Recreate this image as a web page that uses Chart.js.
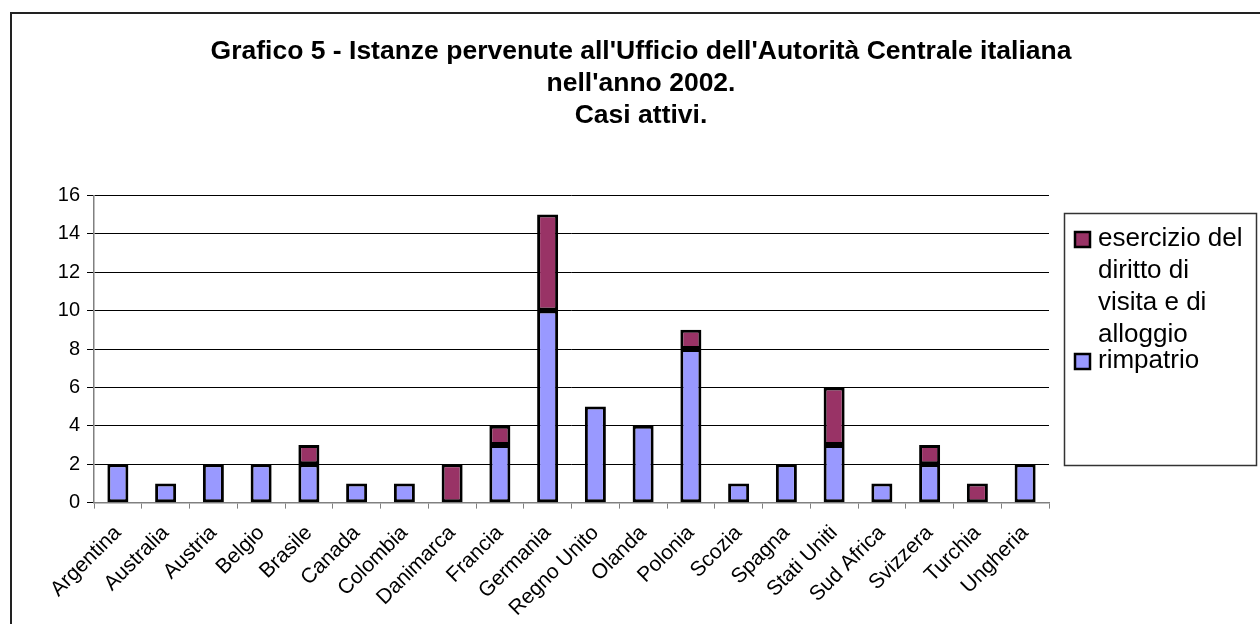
<!DOCTYPE html>
<html>
<head>
<meta charset="utf-8">
<script src="https://cdn.jsdelivr.net/npm/chart.js@4/dist/chart.umd.min.js"></script>
<style>
html,body{margin:0;padding:0;background:#fff;overflow:hidden}
#wrap{position:absolute;left:0;top:0;width:1260px;height:640px}
#frame{position:absolute;left:10px;top:12px;width:1262px;height:640px;border:2px solid #222;box-sizing:border-box}
</style>
</head>
<body>
<div id="frame"></div>
<div id="wrap"><canvas id="chart" width="1260" height="640"></canvas></div>
<script>
var paesi = ['Argentina','Australia','Austria','Belgio','Brasile','Canada','Colombia','Danimarca','Francia','Germania',
             'Regno Unito','Olanda','Polonia','Scozia','Spagna','Stati Uniti','Sud Africa','Svizzera','Turchia','Ungheria']
var rimpatrio = [2,1,2,2,2,1,1,0,3,10,5,4,8,1,2,3,1,2,0,2]
var visita = [0,0,0,0,1,0,0,2,1,5,0,0,1,0,0,3,0,1,1,0]
var yticks = [0,2,4,6,8,10,12,14,16]
var titolo = ["Grafico 5 - Istanze pervenute all'Ufficio dell'Autorità Centrale italiana", "nell'anno 2002.", "Casi attivi."]

var fontname = "'Liberation Sans', Arial, sans-serif"

// legenda disegnata a mano, con testo a capo come in Excel
var legendbox = {
    id: 'legendbox',
    afterDraw: function (chart) {
        var ctx = chart.ctx
        ctx.save()
        ctx.strokeStyle = '#333'
        ctx.lineWidth = 1.5
        ctx.strokeRect(1064.5, 213.5, 192, 252)
        ctx.font = '26px ' + fontname
        ctx.textBaseline = 'middle'
        ctx.fillStyle = '#000'
        var ds = chart.data.datasets.slice().reverse()
        var y = 239
        for (var i = 0; i < ds.length; i++) {
            // quadratino
            ctx.fillStyle = ds[i].backgroundColor
            ctx.fillRect(1075, y - 7, 15, 15)
            ctx.strokeStyle = '#000'
            ctx.lineWidth = 2.5
            ctx.strokeRect(1075, y - 7, 15, 15)
            // testo a capo
            var words = ds[i].label.split(' ')
            var lines = []
            var cur = ''
            for (var w = 0; w < words.length; w++) {
                var test = cur ? cur + ' ' + words[w] : words[w]
                if (ctx.measureText(test).width > 156 && cur) {
                    lines.push(cur)
                    cur = words[w]
                } else {
                    cur = test
                }
            }
            lines.push(cur)
            ctx.fillStyle = '#000'
            for (var l = 0; l < lines.length; l++) {
                ctx.fillText(lines[l], 1098, y + l * 32)
            }
            y = y + (lines.length - 1) * 32 + 26
        }
        ctx.restore()
    }
}

var ctx = document.getElementById('chart').getContext('2d')
var config = {
    type: 'bar',
    data: {
        labels: paesi,
        datasets: [
            {
                label: 'rimpatrio',
                data: rimpatrio,
                backgroundColor: '#9999FF',
                borderColor: '#000',
                borderWidth: 3,
                borderSkipped: false
            },
            {
                label: 'esercizio del diritto di visita e di alloggio',
                data: visita,
                backgroundColor: '#993366',
                borderColor: '#000',
                borderWidth: 3,
                borderSkipped: false
            }
        ]
    },
    options: {
        responsive: false,
        animation: false,
        layout: {
            padding: {left: 22, right: 0, top: 0, bottom: 7}
        },
        datasets: {
            bar: {
                barPercentage: 0.44,
                categoryPercentage: 1
            }
        },
        plugins: {
            legend: {display: false},
            tooltip: {enabled: false},
            title: {
                display: true,
                text: titolo,
                color: '#000',
                font: {family: fontname, size: 26.5, weight: 'bold', lineHeight: 1.2},
                padding: {top: 36, bottom: 64}
            }
        },
        scales: {
            x: {
                stacked: true,
                grid: {
                    display: true,
                    drawOnChartArea: false,
                    drawTicks: true,
                    tickLength: 6,
                    color: '#808080',
                    offset: true
                },
                border: {display: true, color: '#808080', width: 1.5},
                ticks: {
                    color: '#000',
                    font: {family: fontname, size: 21},
                    maxRotation: 45,
                    minRotation: 45,
                    autoSkip: false,
                    padding: 12
                }
            },
            y: {
                stacked: true,
                min: 0,
                max: 16,
                afterBuildTicks: function (scale) {
                    scale.ticks = yticks.map(function (v) { return {value: v} })
                },
                afterFit: function (scale) {
                    scale.width = 72
                },
                grid: {
                    color: '#000',
                    lineWidth: 1,
                    tickLength: 7,
                    drawTicks: true
                },
                border: {display: true, color: '#808080', width: 1.5},
                ticks: {
                    color: '#000',
                    font: {family: fontname, size: 20},
                    padding: 7
                }
            },
            spazio: {
                position: 'right',
                display: true,
                grid: {display: false},
                border: {display: false},
                ticks: {display: false},
                afterFit: function (scale) {
                    scale.width = 211
                }
            }
        }
    },
    plugins: [legendbox]
}
var chart = new Chart(ctx, config)
</script>
</body>
</html>
